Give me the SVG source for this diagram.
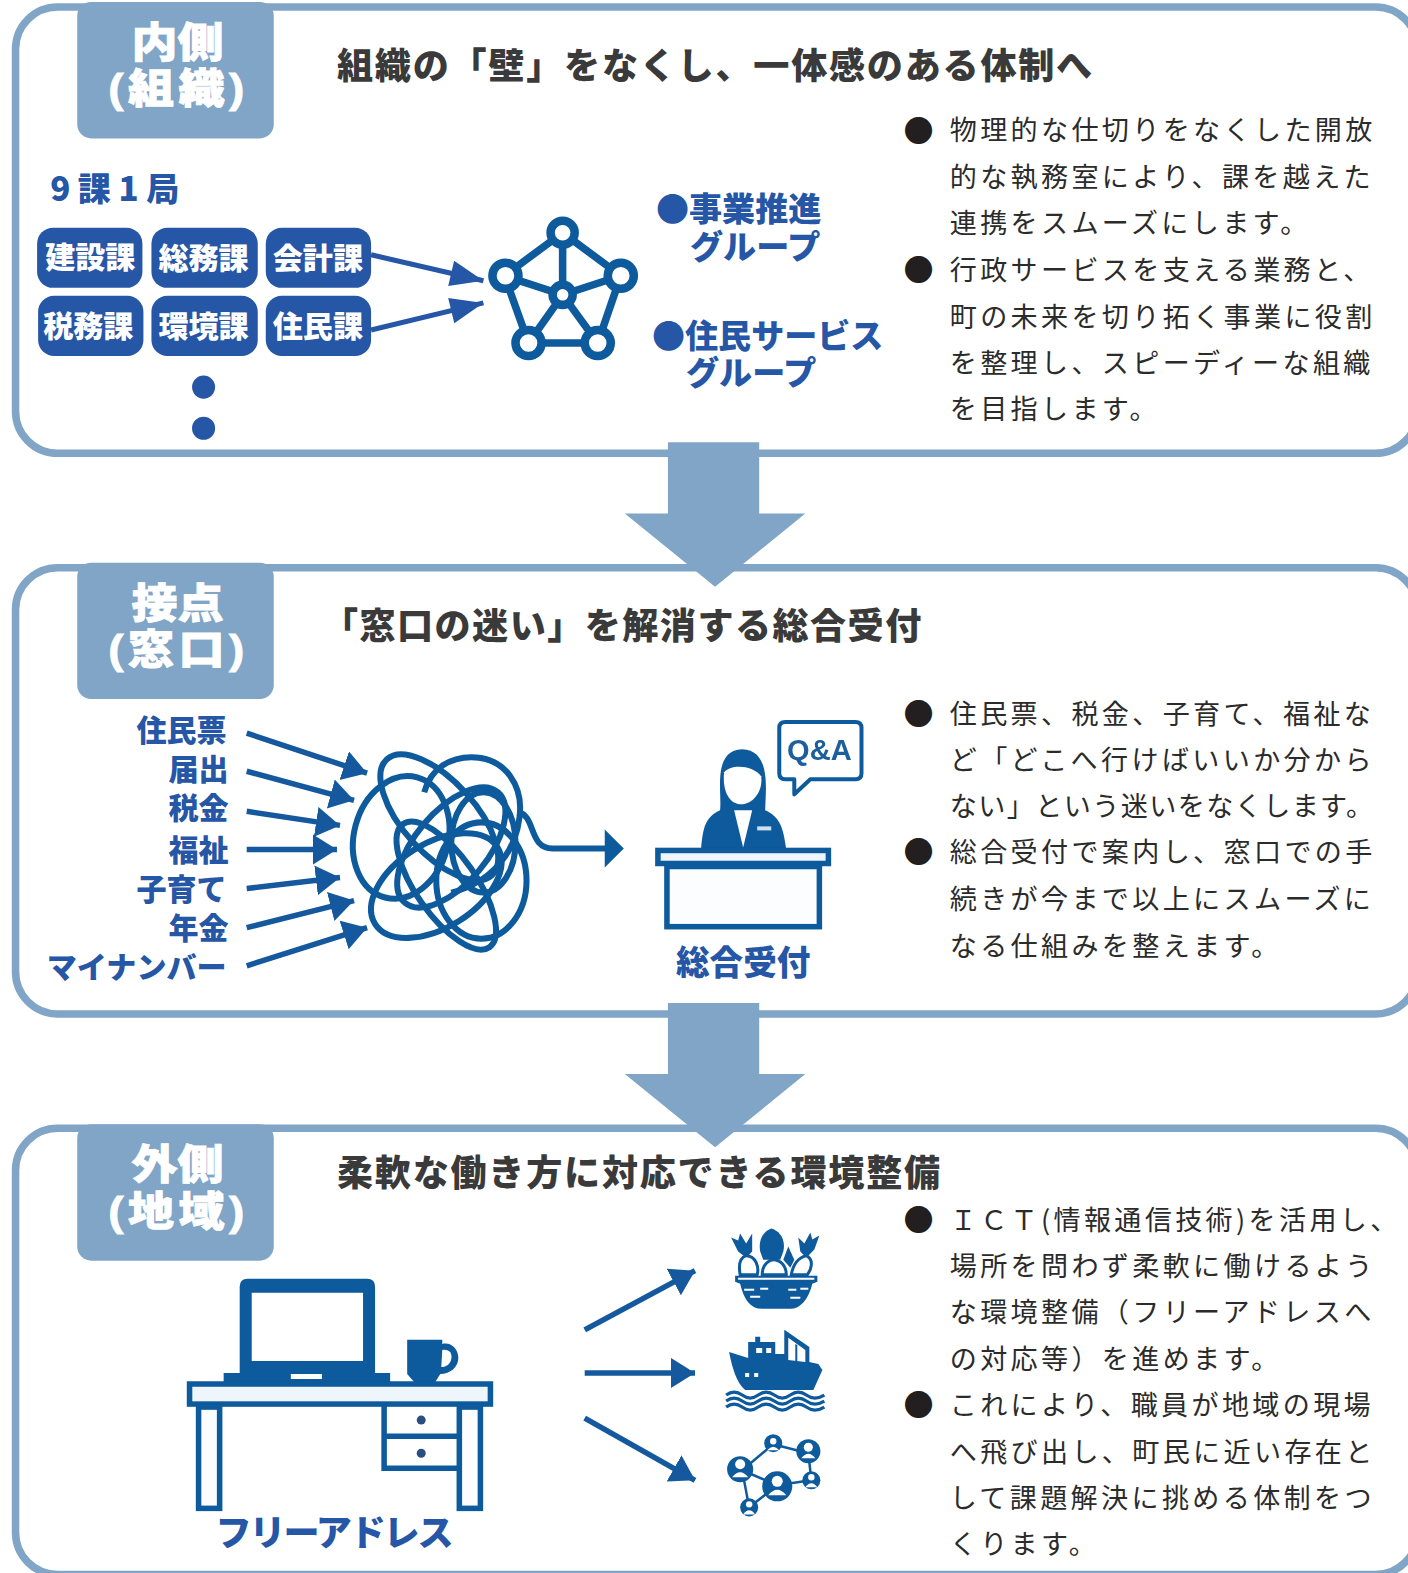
<svg xmlns="http://www.w3.org/2000/svg" width="1408" height="1573" viewBox="0 0 1408 1573">
<style>
text{font-family:"Noto Sans CJK JP","Noto Sans",sans-serif}
.panel{fill:#fff;stroke:#81a5c6;stroke-width:7.5}
.tag{fill:#81a5c6}
text.tagt{font-family:"Liberation Sans","Noto Sans CJK JP",sans-serif;fill:#fff;stroke:#fff;stroke-width:0.8px;font-size:41px;font-weight:900;text-anchor:middle}
.par{letter-spacing:4px}
.h{fill:#3a3a3a;font-size:36px;font-weight:900;letter-spacing:1.75px}
.b{fill:#2b2b2b;font-size:27px;letter-spacing:3.35px}
.dot{fill:#231f20;font-size:30px;text-anchor:middle}
.bx{fill:#2656a6}
.bxt{fill:#fff;font-size:30px;font-weight:900;text-anchor:middle}
text.lb{font-family:"Liberation Sans","Noto Sans CJK JP",sans-serif;fill:#2656a6;font-size:30px;font-weight:900;text-anchor:end}
text.gr{font-family:"Liberation Sans","Noto Sans CJK JP",sans-serif;fill:#2656a6;font-size:33px;font-weight:900}
text.gd{fill:#2656a6;font-size:33px;font-weight:900}
.cn{fill:none;stroke:#2656a6;stroke-width:5}
.ar{fill:none;stroke:#14599d;stroke-width:5.5}
.ic{fill:#0f5a9c}
.ol{fill:#fbfdff;stroke:#0f5a9c;stroke-width:5.5}
.ln{fill:none;stroke:#0f5a9c}
.big{fill:#81a5c6}
</style>
<defs>
<marker id="mA" markerUnits="userSpaceOnUse" markerWidth="40" markerHeight="34" refX="24" refY="15" orient="auto" viewBox="0 0 40 34"><path d="M0 0L24 15L0 30Z" fill="#14599d"/></marker>
<marker id="mB" markerUnits="userSpaceOnUse" markerWidth="40" markerHeight="30" refX="36" refY="13" orient="auto" viewBox="0 0 40 30"><path d="M3 0L36 13L3 26Z" fill="#2656a6"/></marker>
<filter id="soft" x="-5%" y="-5%" width="110%" height="110%"><feGaussianBlur stdDeviation="0.7"/></filter>
</defs>
<g transform="scale(1.0029)">
<g id="panel-inner">
<rect class="panel" x="15.5" y="7" width="1398" height="445" rx="42"/>
<rect class="tag" x="77" y="2" width="196" height="136" rx="14"/>
<text class="tagt" transform="translate(177 57) scale(1.12 1)">内側</text>
<text class="tagt par" transform="translate(178 103) scale(1.12 1)">(組織)</text>
<text class="h" x="336" y="79">組織の「壁」をなくし、一体感のある体制へ</text>
</g>
<g id="panel-contact">
<rect class="panel" x="15.5" y="566" width="1398" height="445" rx="42"/>
<rect class="tag" x="77" y="561" width="196" height="136" rx="14"/>
<text class="tagt" transform="translate(177 616) scale(1.12 1)">接点</text>
<text class="tagt par" transform="translate(178 662) scale(1.12 1)">(窓口)</text>
<text class="h" x="321" y="637" style="letter-spacing:1.45px">「窓口の迷い」を解消する総合受付</text>
</g>
<g id="panel-outer">
<rect class="panel" x="15.5" y="1125" width="1398" height="445" rx="42"/>
<rect class="tag" x="77" y="1121" width="196" height="136" rx="14"/>
<text class="tagt" transform="translate(177 1176) scale(1.12 1)">外側</text>
<text class="tagt par" transform="translate(178 1222) scale(1.12 1)">(地域)</text>
<text class="h" x="336" y="1183">柔軟な働き方に対応できる環境整備</text>
</g>

<g id="body-text">
<text class="dot" x="916" y="142">●</text>
<text class="b" x="947" y="140">物理的な仕切りをなくした開放</text>
<text class="b" x="947" y="186">的な執務室により、課を越えた</text>
<text class="b" x="947" y="232.500">連携をスムーズにします。</text>
<text class="dot" x="916" y="280">●</text>
<text class="b" x="947" y="279">行政サービスを支える業務と、</text>
<text class="b" x="947" y="326">町の未来を切り拓く事業に役割</text>
<text class="b" x="947" y="372">を整理し、スピーディーな組織</text>
<text class="b" x="947" y="418">を目指します。</text>

<text class="dot" x="916" y="723">●</text>
<text class="b" x="947" y="722">住民票、税金、子育て、福祉な</text>
<text class="b" x="947" y="768">ど「どこへ行けばいいか分から</text>
<text class="b" x="947" y="814" textLength="422" style="letter-spacing:0">ない」という迷いをなくします。</text>
<text class="dot" x="916" y="861">●</text>
<text class="b" x="947" y="860">総合受付で案内し、窓口での手</text>
<text class="b" x="947" y="906.500">続きが今まで以上にスムーズに</text>
<text class="b" x="947" y="953">なる仕組みを整えます。</text>

<text class="dot" x="916" y="1227">●</text>
<text class="b" x="947" y="1226">ＩＣＴ(情報通信技術)を活用し、</text>
<text class="b" x="947" y="1272">場所を問わず柔軟に働けるよう</text>
<text class="b" x="947" y="1318.500">な環境整備（フリーアドレスへ</text>
<text class="b" x="947" y="1365">の対応等）を進めます。</text>
<text class="dot" x="916" y="1412">●</text>
<text class="b" x="947" y="1411">これにより、職員が地域の現場</text>
<text class="b" x="947" y="1457.500">へ飛び出し、町民に近い存在と</text>
<text class="b" x="947" y="1504">して課題解決に挑める体制をつ</text>
<text class="b" x="947" y="1549.500">くります。</text>
</g>

<g id="section-departments">
<text x="50" y="200" style="fill:#2656a6;font-size:33px;font-weight:900">9 課 1 局</text>
<rect class="bx" x="37" y="227" width="105" height="60" rx="16"/><text class="bxt" x="90" y="267">建設課</text>
<rect class="bx" x="151" y="227" width="106" height="60" rx="16"/><text class="bxt" x="203" y="268">総務課</text>
<rect class="bx" x="265" y="227" width="105" height="60" rx="16"/><text class="bxt" x="317" y="268">会計課</text>
<rect class="bx" x="38" y="295" width="105" height="60" rx="16"/><text class="bxt" x="88" y="336">税務課</text>
<rect class="bx" x="151" y="295" width="106" height="60" rx="16"/><text class="bxt" x="203" y="336">環境課</text>
<rect class="bx" x="265" y="295" width="105" height="60" rx="16"/><text class="bxt" x="317" y="336">住民課</text>
<ellipse class="bx" cx="203" cy="386" rx="11.5" ry="11.500"/>
<ellipse class="bx" cx="203" cy="427" rx="11.5" ry="11.500"/>
</g>

<g id="icon-network" filter="url(#soft)">
<path class="ln" stroke-width="7.5" d="M561 232L503 275L527 342H596L619 275ZM561 232V294M503 275L561 294L619 275M527 342L561 294L596 342"/>
<g fill="#fff" stroke="#0f5a9c" stroke-width="8.5">
<circle cx="561" cy="232" r="12"/><circle cx="504" cy="275" r="13"/><circle cx="619" cy="275" r="13"/><circle cx="561" cy="294" r="10"/><circle cx="527" cy="342" r="13"/><circle cx="596" cy="342" r="13"/>
</g>
</g>
<g id="group-labels">
<text class="gd" x="654" y="220">●</text><text class="gr" x="687" y="220">事業推進</text>
<text class="gr" x="688" y="258">グループ</text>
<text class="gd" x="650" y="347">●</text><text class="gr" x="683" y="347">住民サービス</text>
<text class="gr" x="684" y="384">グループ</text>
</g>

<g id="section-sources">
<text class="lb" x="226" y="739">住民票</text>
<text class="lb" x="228" y="778">届出</text>
<text class="lb" x="228" y="817">税金</text>
<text class="lb" x="228" y="859">福祉</text>
<text class="lb" x="226" y="897">子育て</text>
<text class="lb" x="228" y="936">年金</text>
<text class="lb" x="226" y="975">マイナンバー</text>
</g>

<g id="icon-tangle" filter="url(#soft)">
<g class="ln" stroke-width="6">
<path d="M423 790C430 765 450 755 470 755C505 755 522 785 518 815C514 850 490 880 450 890"/>
<ellipse cx="400" cy="835" rx="47" ry="62" transform="rotate(15 400 835)"/>
<ellipse cx="480" cy="878" rx="45" ry="58"/>
<ellipse cx="435" cy="883" rx="72" ry="42" transform="rotate(-32 435 883)"/>
<ellipse cx="438" cy="815" rx="78" ry="36" transform="rotate(48 438 815)"/>
<ellipse cx="445" cy="883" rx="75" ry="30" transform="rotate(55 445 883)"/>
<ellipse cx="450" cy="845" rx="72" ry="36" transform="rotate(-50 450 845)"/>
<ellipse cx="482" cy="840" rx="32" ry="50"/>
<path d="M516 810C535 812 526 847 552 846H608"/>
</g>
<path class="ic" d="M603 827L622 846L603 865Z"/>
</g>
<g id="icon-reception" filter="url(#soft)">
<path class="ic" d="M699 847C701 825 703 815 718 808C720 790 710 748 740 747C770 748 763 790 763 808C778 815 781 825 784 847Z"/>
<path fill="#fff" d="M722 770C728 762 750 762 759 774C761 790 750 802 739 802C728 802 720 790 722 770Z"/>
<path fill="#fff" d="M732 808L750 808L741 845Z"/>
<rect x="755" y="824" width="14" height="4" fill="#cfe0ef"/>
<rect class="ol" x="665" y="864" width="152" height="60"/>
<rect class="ol" x="656" y="848" width="170" height="13" style="fill:#eef5fb"/>
<path fill="#fff" stroke="#0f5a9c" stroke-width="4" stroke-linejoin="round" d="M783 720H853Q859 720 859 726V771Q859 777 853 777H808L792 792V777H783Q777 777 777 771V726Q777 720 783 720Z"/>
<text x="817" y="758" text-anchor="middle" style="fill:#1b5e9c;font-size:29px;font-weight:700;font-family:'Liberation Sans','Noto Sans',sans-serif">Q&amp;A</text>
</g>
<g id="label-reception"><text x="741" y="972" text-anchor="middle" style="fill:#2656a6;font-size:33.5px;font-weight:900">総合受付</text></g>

<g id="icon-desk" filter="url(#soft)">
<path class="ic" fill-rule="evenodd" d="M247 1275H366Q374 1275 374 1283V1369H389V1381H223V1369H239V1283Q239 1275 247 1275ZM251 1289V1357H362V1289ZM290 1370V1375H321V1370Z"/>
<path class="ic" d="M406 1336H441L441 1340C451 1338 457 1346 457 1354C457 1363 449 1370 439 1370L434 1378H413L406 1370Z"/>
<path fill="#fff" d="M441 1346C448 1345 451 1349 450 1355C449 1360 445 1363 440 1363Z"/>
<rect class="ol" x="189" y="1380" width="300" height="20" style="fill:#eef5fb"/>
<rect class="ol" x="198" y="1403" width="21" height="101"/>
<rect class="ol" x="458" y="1403" width="21" height="101"/>
<path class="ln" stroke-width="5.5" d="M383 1400V1464H458M383 1432H458"/>
<circle cx="420" cy="1416" r="4.500" fill="#29507e"/><circle cx="420" cy="1449" r="4.500" fill="#29507e"/>
</g>
<g id="label-desk"><text x="215" y="1542" style="fill:#2656a6;font-size:36px;font-weight:900;letter-spacing:-2.2px">フリーアドレス</text></g>

<g id="icon-basket" class="ic" filter="url(#soft)">
<path d="M733 1272H815V1278L810 1280C806 1296 798 1305 788 1305H760C748 1305 742 1296 738 1280L733 1278Z"/>
<path fill="#fff" d="M736 1274H812V1276H736Z"/>
<g fill="#fff"><rect x="742" y="1285" width="10" height="2"/><rect x="758" y="1284" width="8" height="2"/><rect x="786" y="1285" width="8" height="2"/><rect x="798" y="1284" width="8" height="2"/><rect x="748" y="1292" width="10" height="2"/><rect x="788" y="1293" width="10" height="2"/></g>
<path d="M769 1225C777 1227 784 1236 781 1248L778 1256H761L758 1248C756 1236 761 1228 769 1225Z"/>
<path d="M729 1234L736 1237L738 1230L744 1240L750 1230L750 1248L744 1254L736 1248ZM817 1232L810 1236L808 1229L802 1240L796 1234L798 1248L804 1254L812 1246Z"/>
<path fill="#fff" stroke="#0f5a9c" stroke-width="3" d="M744 1252C754 1252 757 1264 755 1271H738C736 1260 738 1254 744 1252ZM804 1252C812 1256 809 1266 805 1271H789C791 1260 796 1254 804 1252ZM760 1271C760 1260 768 1256 771 1256C778 1256 784 1262 784 1271Z"/>
<path d="M786 1243L792 1256L788 1264L781 1256Z"/>
</g>
<g id="icon-ship" class="ic" filter="url(#soft)">
<path d="M727 1348L746 1354V1338H753V1333H758V1338H773V1350L782 1350V1326L785 1328L807 1343V1358L816 1360L820 1366L811 1386H743C734 1378 730 1363 727 1348Z"/>
<path fill="#fff" d="M786 1334L803 1346L803 1358L786 1356ZM754 1344H760V1349H754ZM764 1344H769V1349H764ZM743 1369H747V1373H743ZM752 1369H756V1373H752Z"/>
<path fill="#0f5a9c" d="M793 1340L795 1341L795 1358L793 1358Z"/>
<path fill="none" stroke="#0f5a9c" stroke-width="3.2" d="M724 1391Q732 1385 740 1391T756 1391T772 1391T788 1391T804 1391T822 1391M724 1397Q732 1391 740 1397T756 1397T772 1397T788 1397T804 1397T822 1397M724 1403Q732 1397 740 1403T756 1403T772 1403T788 1403T804 1403T822 1403"/>
</g>
<g id="icon-people" filter="url(#soft)">
<path class="ln" stroke-width="2.5" d="M771 1440L740 1466L747 1503M771 1440L806 1449L809 1476L775 1481L747 1503M740 1466L775 1481"/>
<g class="ic">
<circle cx="771" cy="1439" r="9"/><circle cx="806" cy="1447" r="12"/><circle cx="738" cy="1465" r="13"/><circle cx="809" cy="1476" r="9"/><circle cx="775" cy="1482" r="15"/><circle cx="747" cy="1503" r="9"/>
</g>
<g fill="#fff">
<circle cx="771" cy="1437" r="3.200"/><circle cx="806" cy="1443" r="4.500"/><circle cx="738" cy="1460" r="5"/><circle cx="809" cy="1473" r="3.200"/><circle cx="775" cy="1477" r="5.500"/><circle cx="747" cy="1500" r="3.200"/>
<path d="M765 1446Q771 1439 777 1446ZM799 1454Q806 1445 813 1454ZM730 1473Q738 1463 746 1473ZM803 1483Q809 1475 815 1483ZM766 1491Q775 1480 784 1491ZM741 1510Q747 1502 753 1510Z"/>
</g>
</g>

<g id="connectors">
<path class="cn" d="M370 254L482 280" marker-end="url(#mB)"/>
<path class="cn" d="M370 329L482 302" marker-end="url(#mB)"/>
<g filter="url(#soft)">
<path class="ar" d="M246 731L366 771" marker-end="url(#mA)"/>
<path class="ar" d="M246 769L353 798" marker-end="url(#mA)"/>
<path class="ar" d="M246 809L339 823" marker-end="url(#mA)"/>
<path class="ar" d="M246 847H336" marker-end="url(#mA)"/>
<path class="ar" d="M246 886L339 875" marker-end="url(#mA)"/>
<path class="ar" d="M246 925L353 898" marker-end="url(#mA)"/>
<path class="ar" d="M246 963L366 925" marker-end="url(#mA)"/>
<path class="ar" d="M583 1326L693 1267" marker-end="url(#mA)"/>
<path class="ar" d="M583 1369H693" marker-end="url(#mA)"/>
<path class="ar" d="M583 1414L693 1476" marker-end="url(#mA)"/>
</g>
<path class="big" d="M666 441H757V512H803L713 585L623 512H666Z"/>
<path class="big" d="M666 1000H757V1071H803L713 1144L623 1071H666Z"/>
</g>
</g>
</svg>
